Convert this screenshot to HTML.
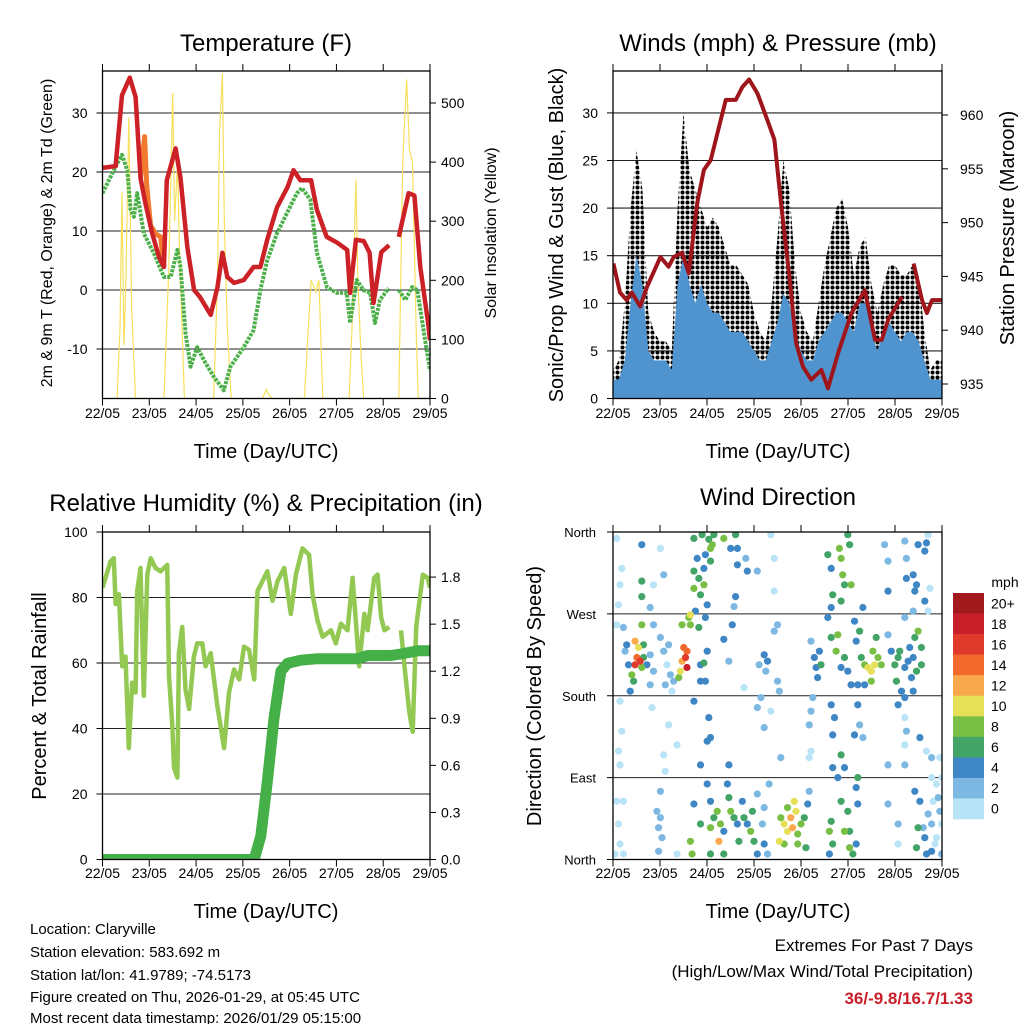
<!DOCTYPE html>
<html><head><meta charset="utf-8"><style>
html,body{margin:0;padding:0;background:#fff;}
svg{display:block;font-family:"Liberation Sans",sans-serif;}
</style></head><body>
<svg id="chart" width="1024" height="1024" viewBox="0 0 1024 1024" xmlns="http://www.w3.org/2000/svg">
<defs>
<pattern id="gustdots" width="5" height="5" patternUnits="userSpaceOnUse"><circle cx="2.5" cy="2.5" r="2.0" fill="#000"/></pattern>
<clipPath id="c1"><rect x="102.5" y="71" width="327.5" height="327.5"/></clipPath>
<clipPath id="c2"><rect x="613" y="71" width="329" height="327.5"/></clipPath>
<clipPath id="c3"><rect x="102.5" y="532" width="327.5" height="327.5"/></clipPath>
<clipPath id="c4"><rect x="613" y="532" width="329" height="327.5"/></clipPath>
</defs>
<g id="g1"></g>
<g id="g2"></g>
<g id="g3"></g>
<g id="g4"></g>
<g id="info" font-size="15" fill="#000">
<text x="30" y="934">Location: Claryville</text>
<text x="30" y="957">Station elevation: 583.692 m</text>
<text x="30" y="980">Station lat/lon: 41.9789; -74.5173</text>
<text x="30" y="1002">Figure created on Thu, 2026-01-29, at 05:45 UTC</text>
<text x="30" y="1024" dy="-1">Most recent data timestamp: 2026/01/29 05:15:00</text>
</g>
<g text-anchor="end">
<text x="973" y="951" font-size="17">Extremes For Past 7 Days</text>
<text x="973" y="977" font-size="17">(High/Low/Max Wind/Total Precipitation)</text>
<text x="973" y="1004" font-size="17" font-weight="bold" fill="#c8202a">36/-9.8/16.7/1.33</text>
</g>
</svg>
<script>
// ---------- DATA ----------
const dayLabels = ["22/05","23/05","24/05","25/05","26/05","27/05","28/05","29/05"];
const tempHours = [0,6.7,10,14,17,19.5,22,25.5,29,31.5,33,37.5,40,43.5,47,50,55.5,59,61.5,64,67.5,72.5,77.5,81,84.5,89.5,95,98,101.5,107,110,115,120.5,125.5,127,130,134,137,139,143,147,null,152,157,160,163,167,168];
const tempVals  = [20.7,21,33,36,32.7,19,14.7,9.6,5.6,3.9,18.6,24,19,7.3,0,-1.2,-4.2,0.5,6.3,2.2,1.2,1.7,3.9,3.9,8.5,14,17.5,20.3,18.6,18.6,13.6,9,8,6.8,-0.5,8.5,8.3,6.3,-2.2,6.4,7.6,null,9,16.4,16,3.9,-5.6,-8.5];
const t9Hours = [19.5,21,21.6,22.6,24.6,27.3,29.8,31.5];
const t9Vals  = [19,24,26,18,11,9.5,9,4];
const tdHours = [0,5.8,10,12.7,14.4,16.1,17.8,21.2,26.4,31.5,35,38.4,40,42.6,45.2,48.6,52,57.1,62.2,65.6,72.5,77.5,81,84.5,89.5,94.6,99.7,102.3,106.6,110,115.1,120.2,125.3,127,130.4,133.8,137.3,139.8,142.3,146.8,null,152,155.4,158.8,161.5,164.9,168];
const tdVals  = [16.4,20.3,22.9,20.3,13.6,12.4,16.4,9.6,6.2,2.2,2.2,6.8,3.9,-7.3,-13,-9.7,-11.9,-14.7,-17,-13,-9.7,-6.8,0,5,9.6,13,16.4,17.3,15.3,6.3,0.5,-0.5,-0.5,-5.6,1.7,0,-0.5,-5.6,-1.7,0.3,null,0,-1.7,0.5,0,-7.3,-13.6];
const solarHours = [0,7.5,9,10,11,12,13.5,15,17,31.5,34,36,37,38.5,39.5,42,57,59,60,61.5,62.5,64,66,82,84,85,87,103.5,107,109.5,111,113,126.5,128,130,131,132.5,134,152,154,156,157.5,159,161,162,168];
const solarVals  = [0,0,120,350,90,200,476,150,0,0,220,517,300,400,250,0,0,200,450,550,300,120,0,0,15,8,0,0,200,180,200,0,0,120,370,200,80,0,0,400,540,420,400,100,0,0];
// Winds, 3-hourly
const windHours = [0,3,6,9,12,15,18,21,24,27,30,33,36,39,42,45,48,51,54,57,60,63,66,69,72,75,78,81,84,87,90,93,96,99,102,105,108,111,114,117,120,123,126,129,132,135,138,141,144,147,150,153,156,159,162,165,168];
const windHi = [2,2,4,10,15,12,5,4,4,4,3,12,15,12,10,12,10,9,9,8,7,7,7,6,5,4,4,6,8,11,10,7,5,4,4,6,7,8,9,9,8,7,10,10,7,5,7,8,7,6,7,7,6,4,2,2,2];
const gustHi = [3,4,10,20,26,22,9,7,6,6,5,20,30,24,22,20,18,19,18,16,14,14,13,12,9,7,6,10,17,25,22,14,9,7,6,10,14,17,20,21,18,13,16,17,12,9,12,14,14,13,13,14,13,7,3,4,4];
const presHours = [0.2,3.6,7,9.6,13.9,17.3,24.2,28.4,31,35.3,38.7,43,46.4,49.9,53.3,57.6,62.7,66.1,69.5,73.8,78.9,82.4,85.8,90.1,93.5,97,101.2,106.4,109.8,115,121.8,128.6,133.8,137.2,140.6,147.5,null,153.5,157.8,160.3,162.9,168];
const presVals  = [946.2,943.5,942.8,943.5,942.2,944,946.8,945.9,946.8,947.2,945.3,951.8,954.9,955.8,958.3,961.4,961.4,962.6,963.3,962,959.5,957.7,951.8,945,938.8,936.6,935.4,936.3,934.6,937.9,941.6,943.7,939.1,939.1,941,943.1,null,946.2,942.8,941.6,942.8,942.8];
const rhHours = [0,4.1,5.8,6.7,8.4,10.1,11.8,13.5,15.2,17,17.8,19.5,21.2,23,24.7,27.2,29.8,33.2,34.1,35.8,36.7,38.4,39.2,40.9,42.6,44.4,46.9,48.6,51.2,52.9,55.5,58.9,62.4,64.9,67.5,70.1,72.6,75.2,77.8,79.5,82.1,84.6,87.2,89.8,93.2,96.6,99.2,102.6,106,107.7,110.3,112.9,117.2,119.7,122.3,125.7,128.3,131.7,134.3,136,139.4,141.1,142.9,144.6,147.1,null,153.1,154.9,157.4,159.1,160.9,164.3,166.8,168];
const rhVals  = [83,91,92,78,81,59,62,34,54,51,82,89,50,87,92,89,88,90,56,41,28,25,63,71,52,46,62,66,66,59,63,47,34,51,58,55,65,64,55,82,85,88,79,85,89,75,87,95,93,81,73,68,70,66,72,70,86,59,75,70,86,87,74,70,71,null,70,59,45,39,71,87,86,83];
const prHours = [0,77.8,81.2,84.6,88,91.5,94.9,101.8,110.3,130.9,136,148,153,161.7,168];
const prVals  = [0,0,0.15,0.5,0.9,1.2,1.25,1.27,1.28,1.28,1.3,1.3,1.31,1.33,1.33];
const dirObs = [[1.9,353,1],[4.5,320,0],[3.6,302,0],[2.8,280,0],[1.9,258,1],[5.3,255,2],[6.2,229,3],[7,236,4],[7.9,214,4],[8.8,185,4],[3.6,174,0],[4.5,141,0],[2.8,119,0],[3.6,104,0],[1.9,64,1],[5.3,64,0],[2.8,39,1],[3.6,17,0],[5.3,6,0],[1,6,0],
[11.3,240,12],[13,233,10],[12.2,222,14],[13.9,218,16],[11.3,214,16],[14.7,211,8],[9.6,203,8],[10.5,196,7],[15.6,236,6],[15.6,222,6],[17.3,214,4],[14.7,258,8],[14.7,306,7],[14.7,289,6],[14.7,346,4],[19,225,3],[20.7,207,2],[19,192,2],[20.7,258,2],[20.7,302,0],[24.2,342,0],[25.9,313,2],[19,277,2],
[24.2,244,2],[25.9,229,2],[27.6,214,1],[29.3,203,2],[31,196,2],[28.4,236,2],[30.1,185,1],[26.7,192,2],
[22.4,53,2],[24.2,46,2],[23.3,35,2],[25,24,2],[24.2,75,2],[23.3,9,3],[25.9,115,1],[26.7,97,1],[28.4,148,1],[19.9,167,1],[32.7,126,1],[32.7,6,0],
[36.1,233,14],[37,222,16],[37.8,229,14],[35.3,218,12],[37.8,211,18],[34.4,207,10],[33.6,200,8],[38.7,266,9],[39.5,258,8],[35.3,258,8],[39.5,269,10],
[41.3,353,6],[45.5,357,6],[48.9,352,6],[49.8,342,8],[43,331,5],[47.2,335,4],[41.3,317,6],[43.8,309,7],[46.4,302,8],[44.7,291,6],[48.1,280,5],[42.1,273,4],[47.2,266,4],[43.8,255,6],[41.3,298,8],[46.4,320,4],[49.8,328,6],[50.7,346,8],[51.5,357,6],
[48.1,229,4],[44.7,214,4],[46.4,216,6],[47.2,196,4],[44.7,196,4],[41.3,174,4],[48.9,156,4],[48.1,130,4],
[39.5,20,8],[40.4,6,8],[41.3,61,4],[44.7,39,6],[48.1,83,4],[49.8,64,4],[49.8,35,8],[51.5,46,6],[53.2,53,8],[54.9,39,9],[54.1,20,12],[56.6,31,4],[58.4,83,4],[59.2,68,6],[60.1,53,8],[61.8,46,6],[63.5,39,4],[64.3,20,6],[66,64,4],[66.9,46,6],[68.6,39,4],[70.3,31,8],[72,20,6],[71.2,53,6],[73.7,6,4],[56.6,6,6],[49.8,6,6],[44.7,104,4],[59.2,104,4],
[56.6,353,8],[60.1,342,4],[62.6,357,6],[63.5,342,4],[63.5,324,4],[62.6,289,4],[68.6,317,4],[67.8,331,2],[61.8,278,2],[60.9,258,4],[56.6,242,4],[59.2,218,2],[49.8,134,4],
[73.7,317,2],[74.6,214,3],[77.2,225,4],[78.9,218,4],[78,207,2],[75.5,178,2],[73.7,167,2],[77.2,145,2],[82.3,331,1],[80.6,357,0],[82.3,295,1],[84,258,2],[84,196,3],[84.9,185,2],[85.7,112,2],[82.3,251,2],[80.6,163,1],[79.7,83,2],[77.2,57,2],[76.3,39,2],[77.2,17,4],[78.9,6,2],[73.7,72,2],[66.9,189,1],
[85.7,46,8],[87.4,39,10],[89.1,31,10],[90.8,46,12],[91.7,35,13],[92.6,64,10],[93.4,53,10],[94.3,28,8],[96,39,8],[97.7,46,6],[99.4,61,4],[100.2,75,2],[84.9,20,10],[87.4,17,8],[94.3,17,8],[98.5,13,6],[89.1,57,8],
[101.1,240,2],[102.8,222,4],[103.7,211,4],[104.5,200,4],[105.4,229,4],[106.2,214,6],[102,178,2],[101.1,163,2],[100.2,148,2],[101.1,119,1],[100.2,112,1],
[109.7,335,6],[111.4,320,4],[112.2,291,6],[111.4,277,4],[116.5,331,8],[115.6,342,8],[117.3,313,8],[118.2,302,6],[119.9,357,6],[120.8,346,6],[121.6,302,8],[116.5,284,6],[109.7,266,4],[111.4,244,6],[114.8,247,8],[113.9,229,8],[116.5,211,4],[118.2,222,6],[119.9,207,4],[121.6,192,4],[111.4,170,4],[113.1,156,4],[112.2,137,4],[116.5,115,6],[118.2,101,5],[112.2,101,4],[114.8,90,4],[116.5,64,6],[119.9,53,6],[118.2,31,8],[120.8,31,6],[120.8,13,9],[122.5,6,6],[111.4,42,6],[110.5,31,8],[112.2,17,7],[110.5,6,4],[125,61,4],[124.2,79,4],[125,90,6],[124.2,17,4],
[123.3,262,4],[124.2,240,4],[125.9,251,6],[126.8,222,6],[128.5,214,8],[130.2,211,10],[131.9,207,10],[133.6,214,10],[132.7,229,8],[135.3,222,8],[137,214,8],[131.9,196,8],[128.5,192,4],[125,192,4],[134.4,244,6],[127.6,277,4],[125,170,4],[125.9,148,2],[123.3,137,4],[127.6,134,2],
[140.4,247,2],[142.1,229,4],[143.9,214,6],[145.6,222,6],[146.4,229,6],[144.7,196,6],[147.3,185,4],[149,211,4],[150.7,218,4],[152.4,200,4],[153.3,222,4],[154.1,244,6],[151.5,233,4],[149,178,4],[145.6,170,4],[153.3,185,4],[155.8,251,8],[157.5,233,6],[157.5,214,6],[155,207,6],
[138.7,346,2],[140.4,328,2],[140.4,295,4],[149,350,2],[149.8,331,2],[149.8,309,4],[153.3,313,4],[154.1,295,4],[155,302,4],[155.8,346,4],[159.2,339,4],[160.1,348,4],[160.9,357,1],[161.8,298,1],[159.2,284,4],[160.9,273,1],[153.3,273,2],[149,266,2],
[140.4,104,2],[140.4,61,2],[149,156,1],[149.8,141,2],[149,126,1],[149,104,2],[156.7,134,4],[160.1,119,1],[162.7,112,2],[154.1,75,4],[155.8,35,6],[155,13,6],[156.7,64,4],[159.2,24,4],[160.9,50,2],[162.7,39,2],[163.5,64,1],[165.2,83,1],[166.1,68,2],[166.9,53,2],[167.8,39,1],[165.2,24,1],[164.4,17,0],[167.8,6,2],[162.7,9,4],[168,90,0],[166.9,112,0],[162.7,90,1],[158.4,35,2],[160.1,6,4],[145.6,17,1],[145.6,39,2]];
const speedLabels = ["20+","18","16","14","12","10","8","6","4","2","0"];
const speedColors = ["#a31a1e","#c8202a","#e03a2a","#f2692e","#f9a94b","#e6df58","#79bf45","#42a467","#3f86c4","#7db8e3","#b9e3f6"];
const tempTicks = [30,20,10,0,-10];
const solarTicks = [500,400,300,200,100,0];
const windTicks = [30,25,20,15,10,5,0];
const presTicks = [960,955,950,945,940,935];
const rhTicks = [100,80,60,40,20,0];
const prTicks = [1.8,1.5,1.2,0.9,0.6,0.3,0.0];
const dirTicks = [0,90,180,270,360];
const dirNames = ["North","East","South","West","North"];

// ---------- HELPERS ----------
const NS = "http://www.w3.org/2000/svg";
function mk(parent, tag, attrs){ const e=document.createElementNS(NS,tag); for(const k in attrs) e.setAttribute(k,attrs[k]); parent.appendChild(e); return e; }
function txt(parent, x, y, s, size, anchor, extra){ const t=mk(parent,"text",Object.assign({x:x,y:y,"font-size":size,"text-anchor":anchor||"middle",fill:"#000"},extra||{})); t.textContent=s; return t; }
function linePath(hs, vs, fx, fy){ let d="", pen=false; for(let i=0;i<hs.length;i++){ if(hs[i]===null||vs[i]===null){pen=false;continue;} d+=(pen?"L":"M")+fx(hs[i]).toFixed(1)+","+fy(vs[i]).toFixed(1); pen=true;} return d; }
function frame(g, L, T, W, H, name){
  const r=mk(g,"rect",{x:L,y:T,width:W,height:H,fill:"none",stroke:"#000","stroke-width":1.3});
  
  
  for(let d=0; d<=7; d++){
    const x=L+d*W/7;
    mk(g,"line",{x1:x,y1:T,x2:x,y2:T-7,stroke:"#000","stroke-width":1});
    mk(g,"line",{x1:x,y1:T+H,x2:x,y2:T+H+7,stroke:"#000","stroke-width":1});
  }
}
function xLabels(g, L, W, y, name){
  for(let d=0; d<dayLabels.length; d++){
    const t=txt(g, L+d*W/7, y, dayLabels[d], 14);
    
    
  }
}
function grid(g, L, W, ys){
  ys.forEach(y=>{ const l=mk(g,"line",{x1:L,y1:y,x2:L+W,y2:y,stroke:"#222","stroke-width":1.1});
    
     });
}
function yTitle(g, x, y, s, size, name){
  const t=txt(g, x, y, s, size, "middle", {transform:"rotate(-90 "+x+" "+y+")"});
  
  
}

// ---------- PANEL 1 ----------
(function(){
  const g=document.getElementById("g1");
  const L=102.5,T=71,W=327.5,H=327.5;
  const x=h=>L+h/168*W, yT=v=>290-v*5.9, yS=v=>398.5-v*0.591;
  grid(g,L,W,tempTicks.map(yT));
  const c=mk(g,"g",{"clip-path":"url(#c1)"});
  const sol=mk(c,"path",{d:linePath(solarHours,solarVals,x,yS),fill:"none",stroke:"#f8df5c","stroke-width":1.2});
  
  
  const td=mk(c,"path",{d:linePath(tdHours,tdVals,x,yT),fill:"none",stroke:"#4cb04a","stroke-width":4,"stroke-dasharray":"3 1.2","stroke-linejoin":"round"});
  
  
  const o=mk(c,"path",{d:linePath(t9Hours,t9Vals,x,yT),fill:"none",stroke:"#f27a2e","stroke-width":5,"stroke-linejoin":"round"});
  
  
  const r=mk(c,"path",{d:linePath(tempHours,tempVals,x,yT),fill:"none",stroke:"#cc2127","stroke-width":4.5,"stroke-linejoin":"round"});
  
  
  frame(g,L,T,W,H,"temperature");
  tempTicks.forEach(v=>{ mk(g,"line",{x1:L,y1:yT(v),x2:L-6,y2:yT(v),stroke:"#000"});
    const t=txt(g,L-15,yT(v)+5,String(v),14,"end");
    
     });
  solarTicks.forEach(v=>{ mk(g,"line",{x1:L+W,y1:yS(v),x2:L+W+6,y2:yS(v),stroke:"#000"});
    const t=txt(g,L+W+11,yS(v)+5,String(v),14,"start");
    
     });
  xLabels(g,L,W,418,"temperature");
  const tt=txt(g,266,51,"Temperature (F)",24);
  
  
  const xt=txt(g,266,458,"Time (Day/UTC)",20);
  
  
  yTitle(g,52,233,"2m & 9m T (Red, Orange) & 2m Td (Green)",16,"temperature-y-axis-title");
  yTitle(g,496,233,"Solar Insolation (Yellow)",16,"solar-y-axis-title");
})();

// ---------- PANEL 2 ----------
(function(){
  const g=document.getElementById("g2");
  const L=613,T=71,W=329,H=327.5;
  const x=h=>L+h/168*W, yW=v=>398.5-v*9.52, yP=p=>115+(960-p)*10.76;
  grid(g,L,W,windTicks.filter(v=>v>0).map(yW));
  const c=mk(g,"g",{"clip-path":"url(#c2)"});
  let d="M"+x(windHours[0]).toFixed(1)+","+yW(0);
  windHours.forEach((h,i)=>{ d+="L"+x(h).toFixed(1)+","+yW(gustHi[i]).toFixed(1); });
  d+="L"+x(windHours[windHours.length-1]).toFixed(1)+","+yW(0)+"Z";
  const gb=mk(c,"path",{d:d,fill:"url(#gustdots)"});
  
  
  let d2="M"+x(windHours[0]).toFixed(1)+","+yW(0);
  windHours.forEach((h,i)=>{ d2+="L"+x(h).toFixed(1)+","+yW(windHi[i]).toFixed(1); });
  d2+="L"+x(windHours[windHours.length-1]).toFixed(1)+","+yW(0)+"Z";
  const wb=mk(c,"path",{d:d2,fill:"#4f94cf"});
  
  
  const p=mk(c,"path",{d:linePath(presHours,presVals,x,yP),fill:"none",stroke:"#9e161b","stroke-width":4,"stroke-linejoin":"round"});
  
  
  frame(g,L,T,W,H,"winds");
  windTicks.forEach(v=>{ mk(g,"line",{x1:L,y1:yW(v),x2:L-6,y2:yW(v),stroke:"#000"});
    const t=txt(g,L-15,yW(v)+5,String(v),14,"end");
    
     });
  presTicks.forEach(v=>{ mk(g,"line",{x1:L+W,y1:yP(v),x2:L+W+6,y2:yP(v),stroke:"#000"});
    const t=txt(g,L+W+18,yP(v)+5,String(v),14,"start");
    
     });
  xLabels(g,L,W,418,"winds");
  const tt=txt(g,778,51,"Winds (mph) & Pressure (mb)",24);
  
  
  const xt=txt(g,778,458,"Time (Day/UTC)",20);
  
  
  yTitle(g,563,235,"Sonic/Prop Wind & Gust (Blue, Black)",20,"winds-y-axis-title");
  yTitle(g,1014,228,"Station Pressure (Maroon)",20,"pressure-y-axis-title");
})();

// ---------- PANEL 3 ----------
(function(){
  const g=document.getElementById("g3");
  const L=102.5,T=532,W=327.5,H=327.5;
  const x=h=>L+h/168*W, yR=v=>859.5-v*3.275, yPr=v=>859.5-v*156.9;
  grid(g,L,W,[80,60,40,20].map(yR));
  const c=mk(g,"g",{"clip-path":"url(#c3)"});
  const rh=mk(c,"path",{d:linePath(rhHours,rhVals,x,yR),fill:"none",stroke:"#93c952","stroke-width":4.5,"stroke-linejoin":"round"});
  
  
  const pr=mk(c,"path",{d:linePath(prHours,prVals,x,yPr),fill:"none",stroke:"#46b048","stroke-width":11,"stroke-linejoin":"round","stroke-linecap":"round"});
  
  
  frame(g,L,T,W,H,"humidity");
  rhTicks.forEach(v=>{ mk(g,"line",{x1:L,y1:yR(v),x2:L-6,y2:yR(v),stroke:"#000"});
    const t=txt(g,L-15,yR(v)+5,String(v),14,"end");
    
     });
  prTicks.forEach(v=>{ mk(g,"line",{x1:L+W,y1:yPr(v),x2:L+W+6,y2:yPr(v),stroke:"#000"});
    const t=txt(g,L+W+11,yPr(v)+5,v.toFixed(1),14,"start");
    
     });
  xLabels(g,L,W,878,"humidity");
  const tt=txt(g,266,511,"Relative Humidity (%) & Precipitation (in)",24);
  
  
  const xt=txt(g,266,918,"Time (Day/UTC)",20);
  
  
  yTitle(g,46,696,"Percent & Total Rainfall",20,"humidity-y-axis-title");
})();

// ---------- PANEL 4 ----------
(function(){
  const g=document.getElementById("g4");
  const L=613,T=532,W=329,H=327.5;
  const x=h=>L+h/168*W, yD=d=>859.5-d/360*H;
  grid(g,L,W,[90,180,270].map(yD));
  const c=mk(g,"g",{"clip-path":"url(#c4)"});
  const sorted=dirObs.slice().sort((a,b)=>a[2]-b[2]);
  sorted.forEach(o=>{
    const idx=10-Math.min(10,Math.floor(o[2]/2));
    const pt=mk(c,"circle",{cx:x(o[0]).toFixed(1),cy:yD(o[1]).toFixed(1),r:3.6,fill:speedColors[idx]});
    
    
  });
  frame(g,L,T,W,H,"wind-direction");
  dirTicks.forEach((v,i)=>{ mk(g,"line",{x1:L,y1:yD(v),x2:L-6,y2:yD(v),stroke:"#000"});
    const t=txt(g,L-17,yD(v)+5,dirNames[i],13,"end");
    
     });
  xLabels(g,L,W,878,"wind-direction");
  const tt=txt(g,778,505,"Wind Direction",24);
  
  
  const xt=txt(g,778,918,"Time (Day/UTC)",20);
  
  
  yTitle(g,541,696,"Direction (Colored By Speed)",20,"wind-direction-y-axis-title");
  const cb=mk(g,"g",{});
  
  
  const ct=txt(cb,1005,587,"mph",14);
  
  
  const bh=226/speedLabels.length;
  speedLabels.forEach((s,i)=>{
    const r=mk(cb,"rect",{x:953,y:593+i*bh,width:31,height:bh+0.3,fill:speedColors[i]});
    
    
    const t=txt(cb,991,593+i*bh+bh/2+5,s,14,"start");
    
    
  });
})();
</script>
</body></html>
